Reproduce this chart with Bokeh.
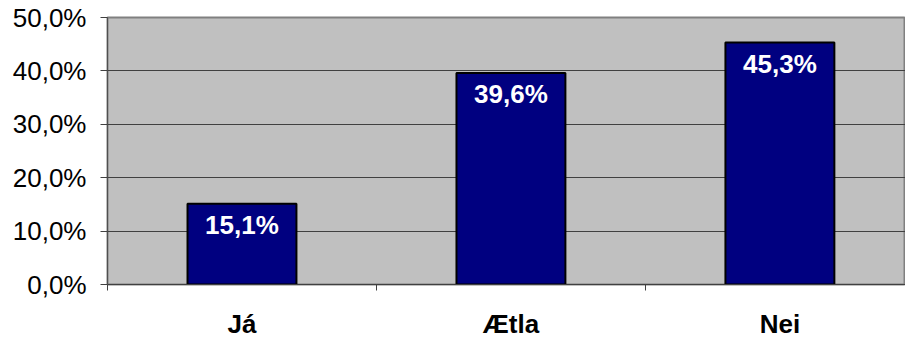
from bokeh.plotting import figure
from bokeh.models import Range1d, FixedTicker, ColumnDataSource, LabelSet
from bokeh.core.properties import value
from bokeh.embed import file_html
from bokeh.resources import INLINE

categories = ["Já", "Ætla", "Nei"]
values = [15.1, 39.6, 45.3]
value_labels = ["15,1%", "39,6%", "45,3%"]
y_ticks = [0, 10, 20, 30, 40, 50]
y_tick_labels = ["0,0%", "10,0%", "20,0%", "30,0%", "40,0%", "50,0%"]

FONT = "Liberation Sans"

xs = [i + 0.5 for i in range(len(categories))]
src = ColumnDataSource(dict(x=xs, top=values, lab=value_labels))

p = figure(width=905, height=341, output_backend="svg", toolbar_location=None,
           x_range=Range1d(0, 2.967), y_range=Range1d(0, 50),
           min_border_left=107, min_border_right=0, min_border_top=17, min_border_bottom=56)
p.background_fill_color = "#C0C0C0"
p.border_fill_color = "white"
p.outline_line_color = "#808080"
p.outline_line_width = 2
p.title.visible = False

p.vbar(x="x", top="top", width=0.405, bottom=0, source=src,
       fill_color="#000080", line_color="black", line_width=2)

p.add_layout(LabelSet(x="x", y="top", text="lab", source=src, text_align="center",
                      text_baseline="top", y_offset=-6, text_color="white",
                      text_font=value(FONT), text_font_style="bold", text_font_size="26px"))

# y axis
p.yaxis.ticker = FixedTicker(ticks=y_ticks)
p.yaxis.major_label_overrides = {t: l for t, l in zip(y_ticks, y_tick_labels)}
p.yaxis.major_label_text_font = FONT
p.yaxis.major_label_text_font_size = "26px"
p.yaxis.major_label_text_color = "black"
p.yaxis.major_tick_out = 7
p.yaxis.major_tick_in = 0
p.yaxis.minor_tick_line_color = None
p.yaxis.major_label_standoff = 14
p.yaxis.axis_line_color = "#505050"
p.yaxis.major_tick_line_color = "#404040"

# x axis
p.xaxis.ticker = FixedTicker(ticks=xs, minor_ticks=[0, 1, 2, 3])
p.xaxis.major_label_overrides = {x: c for x, c in zip(xs, categories)}
p.xaxis.major_label_text_font = FONT
p.xaxis.major_label_text_font_style = "bold"
p.xaxis.major_label_text_font_size = "26px"
p.xaxis.major_label_text_color = "black"
p.xaxis.major_tick_line_color = None
p.xaxis.minor_tick_out = 6
p.xaxis.minor_tick_in = 0
p.xaxis.minor_tick_line_color = "#404040"
p.xaxis.major_label_standoff = 18
p.xaxis.axis_line_color = "#404040"

p.xgrid.grid_line_color = None
p.ygrid.grid_line_color = "#404040"
p.ygrid.ticker = FixedTicker(ticks=y_ticks)

open("out.html", "w").write(file_html(p, INLINE))
